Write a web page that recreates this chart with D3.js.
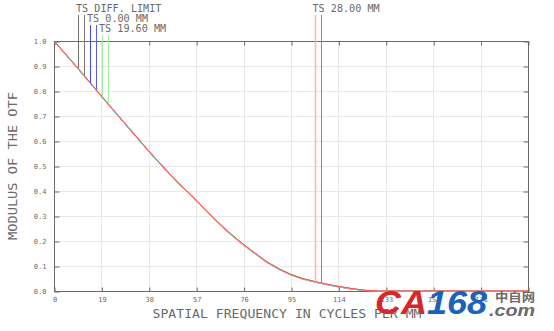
<!DOCTYPE html>
<html>
<head>
<meta charset="utf-8">
<script src="https://cdn.jsdelivr.net/npm/d3@7"></script>
<style>
  body { margin: 0; background: #fff; }
  text { font-family: "DejaVu Sans Mono", monospace; fill: #6a6a6a; }
</style>
</head>
<body>
<div id="chart"></div>
<script>
// Data
var freqs = [0, 5, 10, 15, 20, 25, 30, 35, 40, 45, 50, 55, 60, 65, 70, 75, 80, 85, 90, 95, 100, 105, 110, 115, 120, 125, 130, 190];
var diffLimit = [1.000, 0.943, 0.886, 0.827, 0.768, 0.710, 0.652, 0.594, 0.537, 0.483, 0.430, 0.383, 0.332, 0.281, 0.235, 0.193, 0.155, 0.118, 0.089, 0.065, 0.048, 0.036, 0.025, 0.016, 0.008, 0.002, 0.000, 0.000];
var ts000T = [1.000, 0.942, 0.884, 0.825, 0.766, 0.708, 0.650, 0.592, 0.535, 0.481, 0.428, 0.381, 0.330, 0.279, 0.233, 0.191, 0.153, 0.116, 0.087, 0.064, 0.047, 0.035, 0.024, 0.015, 0.007, 0.002, 0.000, 0.000];
var ts000S = [1.000, 0.942, 0.885, 0.826, 0.767, 0.709, 0.651, 0.593, 0.536, 0.482, 0.429, 0.382, 0.331, 0.280, 0.234, 0.192, 0.154, 0.117, 0.088, 0.064, 0.047, 0.035, 0.024, 0.015, 0.007, 0.002, 0.000, 0.000];
var ts196T = [1.000, 0.943, 0.885, 0.826, 0.767, 0.709, 0.651, 0.593, 0.537, 0.484, 0.431, 0.384, 0.333, 0.282, 0.236, 0.194, 0.156, 0.119, 0.090, 0.066, 0.049, 0.036, 0.025, 0.016, 0.008, 0.002, 0.000, 0.000];
var ts196S = [1.000, 0.942, 0.884, 0.825, 0.766, 0.708, 0.650, 0.592, 0.534, 0.480, 0.427, 0.380, 0.329, 0.278, 0.232, 0.190, 0.152, 0.116, 0.087, 0.063, 0.046, 0.035, 0.024, 0.015, 0.007, 0.002, 0.000, 0.000];
var ts280T = [1.000, 0.944, 0.887, 0.828, 0.769, 0.711, 0.653, 0.595, 0.538, 0.484, 0.431, 0.384, 0.333, 0.282, 0.236, 0.194, 0.156, 0.119, 0.090, 0.066, 0.049, 0.037, 0.026, 0.017, 0.009, 0.003, 0.000, 0.000];
var ts280S = [1.000, 0.943, 0.886, 0.827, 0.768, 0.710, 0.652, 0.594, 0.537, 0.483, 0.430, 0.383, 0.332, 0.281, 0.235, 0.193, 0.155, 0.118, 0.089, 0.065, 0.048, 0.036, 0.025, 0.016, 0.008, 0.002, 0.000, 0.000];

var xTicks = [0, 19, 38, 57, 76, 95, 114, 133, 152, 171, 190];
var xTickLabels = ["0", "19", "38", "57", "76", "95", "114", "133", "152", "171", ""];
var yTicks = [0, 0.1, 0.2, 0.3, 0.4, 0.5, 0.6, 0.7, 0.8, 0.9, 1.0];
var yTickLabels = ["0.0", "0.1", "0.2", "0.3", "0.4", "0.5", "0.6", "0.7", "0.8", "0.9", "1.0"];

// Legend entries: label, marker frequencies (T, S), series, colors
var legendLabels = ["TS DIFF. LIMIT", "TS 0.00 MM", "TS 19.60 MM", "TS 28.00 MM"];
var legendMarkerFreqs = [[9.6, 12.0], [14.4, 16.8], [19.1, 21.5], [104.5, 107.0]];
var legendSeries = [[diffLimit, diffLimit], [ts000T, ts000S], [ts196T, ts196S], [ts280S, ts280T]];
var legendColors = [["#6e6e6e", "#7a7a7a"], ["#4646ff", "#5a5aff"], ["#9cf09c", "#9cf09c"], ["#ffb4b4", "#ff5a5a"]];

// Layout
var width = 554, height = 331;
var plot = { left: 54, right: 528, top: 41, bottom: 291 };

var svg = d3.select("#chart")
  .append("svg")
  .attr("width", width)
  .attr("height", height);

var x = d3.scaleLinear().domain([0, 190]).range([plot.left, plot.right]);
var y = d3.scaleLinear().domain([0, 1]).range([plot.bottom, plot.top]);

var g = svg.append("g").attr("transform", "translate(0.5,0.5)");

// Grid
g.append("g").selectAll("line")
  .data(xTicks.slice(1, -1))
  .enter().append("line")
  .attr("x1", function (d) { return Math.round(x(d)); })
  .attr("x2", function (d) { return Math.round(x(d)); })
  .attr("y1", plot.top).attr("y2", plot.bottom)
  .attr("stroke", "#e8e8e8");

g.append("g").selectAll("line")
  .data(yTicks.slice(1, -1))
  .enter().append("line")
  .attr("x1", plot.left).attr("x2", plot.right)
  .attr("y1", function (d) { return Math.round(y(d)); })
  .attr("y2", function (d) { return Math.round(y(d)); })
  .attr("stroke", "#e8e8e8");

// Axes
function styleAxis(sel) {
  sel.select(".domain").remove();
  sel.selectAll(".tick line").attr("stroke", "#6a6a6a");
  sel.selectAll(".tick text")
    .style("font-family", "'DejaVu Sans Mono', monospace")
    .style("font-size", "7px")
    .attr("fill", "#6a6a6a");
}

g.append("g")
  .attr("transform", "translate(0," + plot.bottom + ")")
  .call(d3.axisBottom(x).tickValues(xTicks).tickSizeInner(-4).tickSizeOuter(0).tickPadding(6)
    .tickFormat(function (d, i) { return xTickLabels[i]; }))
  .call(styleAxis);

g.append("g")
  .attr("transform", "translate(0," + plot.top + ")")
  .call(d3.axisTop(x).tickValues(xTicks).tickSizeInner(-4).tickSizeOuter(0).tickFormat(""))
  .call(styleAxis);

g.append("g")
  .attr("transform", "translate(" + plot.left + ",0)")
  .call(d3.axisLeft(y).tickValues(yTicks).tickSizeInner(-5).tickSizeOuter(0).tickPadding(8)
    .tickFormat(function (d, i) { return yTickLabels[i]; }))
  .call(styleAxis);

g.append("g")
  .attr("transform", "translate(" + plot.right + ",0)")
  .call(d3.axisRight(y).tickValues(yTicks).tickSizeInner(-5).tickSizeOuter(0).tickFormat(""))
  .call(styleAxis);

// Frame
g.append("rect")
  .attr("x", plot.left).attr("y", plot.top)
  .attr("width", plot.right - plot.left).attr("height", plot.bottom - plot.top)
  .attr("fill", "none").attr("stroke", "#6a6a6a");

// Curves
var line = d3.line()
  .x(function (d) { return x(d[0]); })
  .y(function (d) { return y(d[1]); });

function pairs(values) {
  return freqs.map(function (f, i) { return [f, values[i]]; });
}

var curves = [
  { values: diffLimit, color: "#404040" },
  { values: ts000T, color: "#4a4aff" },
  { values: ts000S, color: "#7a9cff" },
  { values: ts196T, color: "#50c850" },
  { values: ts196S, color: "#90e090" },
  { values: ts280S, color: "#ffa0a0" },
  { values: ts280T, color: "#ff5050" }
];

svg.append("g").selectAll("path")
  .data(curves)
  .enter().append("path")
  .attr("d", function (d) { return line(pairs(d.values)); })
  .attr("fill", "none")
  .attr("stroke", function (d) { return d.color; })
  .attr("stroke-width", 1);

// Legend marker lines drop from label to curve
function valueAt(values, f) {
  for (var i = 1; i < freqs.length; i++) {
    if (f <= freqs[i]) {
      var t = (f - freqs[i - 1]) / (freqs[i] - freqs[i - 1]);
      return values[i - 1] + t * (values[i] - values[i - 1]);
    }
  }
  return values[values.length - 1];
}

var legendTop = [15, 25, 35, 15];
var labelBase = [11.5, 21.5, 31.5, 11.5];
var labelX = [76, 87, 99, 312.5];

legendLabels.forEach(function (label, k) {
  legendMarkerFreqs[k].forEach(function (f, j) {
    var xp = Math.round(x(f)) + 0.5;
    svg.append("line")
      .attr("x1", xp).attr("x2", xp)
      .attr("y1", legendTop[k])
      .attr("y2", y(valueAt(legendSeries[k][j], f)))
      .attr("stroke", legendColors[k][j])
      .attr("stroke-width", (k === 3 && j === 0) ? 1.6 : 1);
  });
  svg.append("text")
    .attr("x", labelX[k])
    .attr("y", labelBase[k])
    .attr("textLength", label.length * 6.1)
    .attr("lengthAdjust", "spacingAndGlyphs")
    .style("font-size", "10px")
    .text(label);
});

// Axis titles
var xTitle = "SPATIAL FREQUENCY IN CYCLES PER MM";
svg.append("text")
  .attr("x", 152.5)
  .attr("y", 317.5)
  .attr("textLength", 269)
  .attr("lengthAdjust", "spacingAndGlyphs")
  .style("font-size", "11.5px")
  .text(xTitle);

var yTitle = "MODULUS OF THE OTF";
svg.append("text")
  .attr("transform", "translate(17," + ((plot.top + plot.bottom) / 2) + ") rotate(-90)")
  .attr("text-anchor", "middle")
  .attr("textLength", 148)
  .attr("lengthAdjust", "spacingAndGlyphs")
  .style("font-size", "11.5px")
  .text(yTitle);

// Watermark
var wm = svg.append("g");
wm.append("text")
  .attr("x", 375).attr("y", 314)
  .attr("textLength", 112)
  .attr("lengthAdjust", "spacingAndGlyphs")
  .style("font-family", "'Liberation Sans', sans-serif")
  .style("font-weight", "bold")
  .style("font-style", "italic")
  .style("font-size", "34px")
  .html('<tspan fill="#d8262a">CA</tspan><tspan fill="#1a63b8">168</tspan>');
wm.append("text")
  .attr("x", 495).attr("y", 302)
  .attr("textLength", 40)
  .attr("lengthAdjust", "spacingAndGlyphs")
  .style("font-family", "'Noto Sans CJK SC', sans-serif")
  .style("font-weight", "bold")
  .style("font-size", "12px")
  .attr("fill", "#3c3c3c")
  .text("中自网");
wm.append("text")
  .attr("x", 489).attr("y", 316)
  .attr("textLength", 46)
  .attr("lengthAdjust", "spacingAndGlyphs")
  .style("font-family", "'Liberation Sans', sans-serif")
  .style("font-weight", "bold")
  .style("font-style", "italic")
  .style("font-size", "17px")
  .attr("fill", "#1a63b8")
  .text(".com");
</script>
</body>
</html>
